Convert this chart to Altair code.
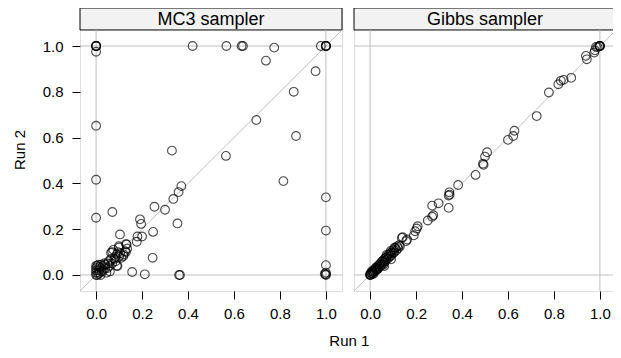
import altair as alt
import pandas as pd

panels = ["MC3 sampler", "Gibbs sampler"]
tick_values = [0.0, 0.2, 0.4, 0.6, 0.8, 1.0]

mc3_run1 = [0, 0, 0, 0, 0, 0.42, 0.567, 0.633, 0.639, 0.775, 0.739, 0.978, 1, 1, 1, 1,
            0.955, 0.86, 0.697, 0.87, 0, 0.33, 0.565, 0, 0.815, 0, 0.071, 0.254, 0.30,
            0.336, 0.359, 0.371, 0.354, 0.191, 0.196, 0.2, 0.18, 0.177, 0.248, 0.104,
            0.246, 0.157, 0.212, 0.361, 0.365, 1, 1, 1, 1, 1, 1, 0.995,
            0, 0, 0, 0, 0, 0.005, 0.01, 0.01, 0.015, 0.02, 0.02, 0.025, 0.03, 0.03, 0.035,
            0.04, 0.045, 0.05, 0.05, 0.055, 0.06, 0.065, 0.07, 0.07, 0.075, 0.08, 0.085,
            0.09, 0.09, 0.095, 0.1, 0.1, 0.105, 0.11, 0.12, 0.13, 0.13, 0.135, 0.04, 0.02,
            0.015, 0.005, 0.01, 0.06, 0.099, 0.065, 0.083, 0.119, 0.126, 0.093, 0.133]
mc3_run2 = [1, 1, 1, 1, 0.975, 1, 1, 1, 1, 0.993, 0.936, 1, 1, 1, 1, 1,
            0.89, 0.80, 0.677, 0.607, 0.652, 0.543, 0.52, 0.416, 0.41, 0.25, 0.275, 0.298,
            0.285, 0.332, 0.362, 0.388, 0.225, 0.243, 0.223, 0.168, 0.168, 0.145, 0.188,
            0.177, 0.075, 0.013, 0.003, 0.0, 0.0, 0.339, 0.194, 0.043, 0.01, 0.0, 0.003, 0.005,
            0, 0.01, 0.02, 0.03, 0.04, 0.0, 0.005, 0.02, 0.01, 0.03, 0.0, 0.015, 0.04, 0.02,
            0.05, 0.03, 0.01, 0.05, 0.03, 0.06, 0.04, 0.07, 0.05, 0.1, 0.11, 0.07, 0.06,
            0.09, 0.04, 0.1, 0.08, 0.12, 0.095, 0.075, 0.09, 0.1, 0.135, 0.115, 0.045, 0.045,
            0.035, 0.04, 0.045, 0.015, 0.126, 0.097, 0.078, 0.083, 0.104, 0.039, 0.133]

gibbs_run1 = [1, 1, 1, 0.997, 0.99, 0.983, 0.978, 0.975, 0.939, 0.943, 0.875, 0.842, 0.83,
              0.819, 0.778, 0.725, 0.628, 0.623, 0.60, 0.509, 0.5, 0.491, 0.494, 0.459,
              0.383, 0.345, 0.346, 0.342, 0.342, 0.298, 0.27, 0.275, 0.27, 0.251, 0.207,
              0.203, 0.196, 0.19, 0.161, 0.157, 0.142, 0.138,
              0, 0.003, 0.006, 0.01, 0.012, 0.015, 0.018, 0.02, 0.022, 0.025, 0.028, 0.03,
              0.033, 0.036, 0.04, 0.042, 0.045, 0.048, 0.05, 0.053, 0.056, 0.06, 0.062,
              0.065, 0.068, 0.07, 0.074, 0.078, 0.08, 0.085, 0.088, 0.092, 0.095, 0.1,
              0.102, 0.106, 0.11, 0.115, 0.118, 0.122, 0.126, 0.13, 0.034, 0.024, 0.015,
              0.008, 0.004, 0.001, 0.0, 0.058, 0.072, 0.09, 0.106, 0.091, 0.062]
gibbs_run2 = [1, 1, 1, 0.999, 0.995, 0.996, 0.981, 0.971, 0.957, 0.942, 0.861, 0.852, 0.848,
              0.833, 0.797, 0.694, 0.63, 0.607, 0.59, 0.536, 0.517, 0.486, 0.481, 0.437,
              0.393, 0.361, 0.351, 0.347, 0.293, 0.313, 0.303, 0.261, 0.254, 0.238, 0.213,
              0.203, 0.191, 0.173, 0.155, 0.148, 0.165, 0.162,
              0, 0.002, 0.01, 0.005, 0.015, 0.012, 0.02, 0.016, 0.025, 0.02, 0.03, 0.024,
              0.038, 0.032, 0.045, 0.036, 0.05, 0.042, 0.058, 0.048, 0.062, 0.055, 0.07,
              0.06, 0.075, 0.066, 0.08, 0.072, 0.088, 0.08, 0.095, 0.085, 0.1, 0.095,
              0.11, 0.1, 0.118, 0.108, 0.125, 0.117, 0.13, 0.125, 0.026, 0.032, 0.005,
              0.018, 0.008, 0.0, 0.004, 0.045, 0.088, 0.105, 0.119, 0.068, 0.039]

XD = [-0.07, 1.07]
STRIP_LO = 1.07
STRIP_HI = 1.166
YD = [-0.07, STRIP_HI]
W = 262
H = 283
FONT = "Liberation Sans"
GRAY = "#bfbfbf"


def panel(run1, run2, name, left):
    xs = alt.Scale(domain=XD, nice=False, zero=False)
    ys = alt.Scale(domain=YD, nice=False, zero=False)
    df = pd.DataFrame({"run1": run1, "run2": run2})

    strip = alt.Chart(pd.DataFrame({"label": [name]})).mark_rect(
        fill="#f2f2f2", stroke="black", strokeWidth=1
    ).encode(
        x=alt.value(0), x2=alt.value(W),
        y=alt.Y(datum=STRIP_HI, scale=ys, axis=None),
        y2=alt.Y2(datum=STRIP_LO),
    )
    strip_text = alt.Chart(pd.DataFrame({"label": [name]})).mark_text(
        font=FONT, fontSize=18, color="black", baseline="middle", align="center", dy=1
    ).encode(
        text="label:N",
        x=alt.value(W / 2),
        y=alt.Y(datum=(STRIP_LO + STRIP_HI) / 2, scale=ys, axis=None),
    )

    vref = alt.Chart(pd.DataFrame({"v": [0.0, 1.0]})).mark_rule(
        color=GRAY, strokeWidth=1
    ).encode(
        x=alt.X("v:Q", scale=xs, axis=None),
        y=alt.Y(datum=YD[0], scale=ys, axis=None),
        y2=alt.Y2(datum=STRIP_LO),
    )
    href = alt.Chart(pd.DataFrame({"h": [0.0, 1.0]})).mark_rule(
        color=GRAY, strokeWidth=1
    ).encode(
        y=alt.Y("h:Q", scale=ys, axis=None),
    )
    diag = alt.Chart(pd.DataFrame({"d": [XD[0], XD[1]]})).mark_line(
        color=GRAY, strokeWidth=1, clip=True
    ).encode(
        x=alt.X("d:Q", scale=xs, axis=None),
        y=alt.Y("d:Q", scale=ys, axis=None),
    )

    bottom_axis = alt.Axis(orient="bottom", values=tick_values, format=".1f",
                           tickSize=8, labelPadding=7, labelFontSize=15, labelFont=FONT,
                           labelColor="black", tickColor="black", domain=False,
                           grid=False, title=None, labelFlush=False)
    top_axis = alt.Axis(orient="top", values=tick_values, labels=False, tickSize=8,
                        tickColor="black", domain=False, grid=False, title=None)
    if left:
        y_axis = alt.Axis(orient="left", values=tick_values, format=".1f", tickSize=8,
                          labelPadding=9, labelFontSize=15, labelFont=FONT,
                          labelColor="black", tickColor="black", domain=False,
                          grid=False, title="Run 2", titleFont=FONT, titleFontSize=15,
                          titleFontWeight="normal", titleColor="black", titlePadding=15,
                          labelFlush=False)
    else:
        y_axis = alt.Axis(orient="right", values=tick_values, labels=False, tickSize=8,
                          tickColor="black", domain=False, grid=False, title=None)

    pts = alt.Chart(df).mark_point(
        shape="circle", filled=False, color="black", size=76, strokeWidth=1.1
    ).encode(
        x=alt.X("run1:Q", scale=xs, axis=bottom_axis),
        y=alt.Y("run2:Q", scale=ys, axis=y_axis),
    )
    pts_top = alt.Chart(df).mark_point(opacity=0).encode(
        x=alt.X("run1:Q", scale=xs, axis=top_axis),
        y=alt.Y("run2:Q", scale=ys, axis=None),
    )

    return alt.layer(strip, strip_text, vref, href, diag, pts, pts_top).resolve_axis(
        x="independent", y="independent"
    ).properties(width=W, height=H)


left_panel = panel(mc3_run1, mc3_run2, panels[0], True)
right_panel = panel(gibbs_run1, gibbs_run2, panels[1], False)

chart = alt.hconcat(left_panel, right_panel, spacing=10).properties(
    title=alt.TitleParams("Run 1", orient="bottom", anchor="middle", fontSize=15,
                          font=FONT, fontWeight="normal", color="black", offset=12, dx=31),
    padding={"left": 3, "top": -9, "right": -12, "bottom": -2},
).configure_view(stroke="black", strokeWidth=1).configure(background="white")

chart.save("out.html", embed_options={"renderer": "svg", "actions": False})
